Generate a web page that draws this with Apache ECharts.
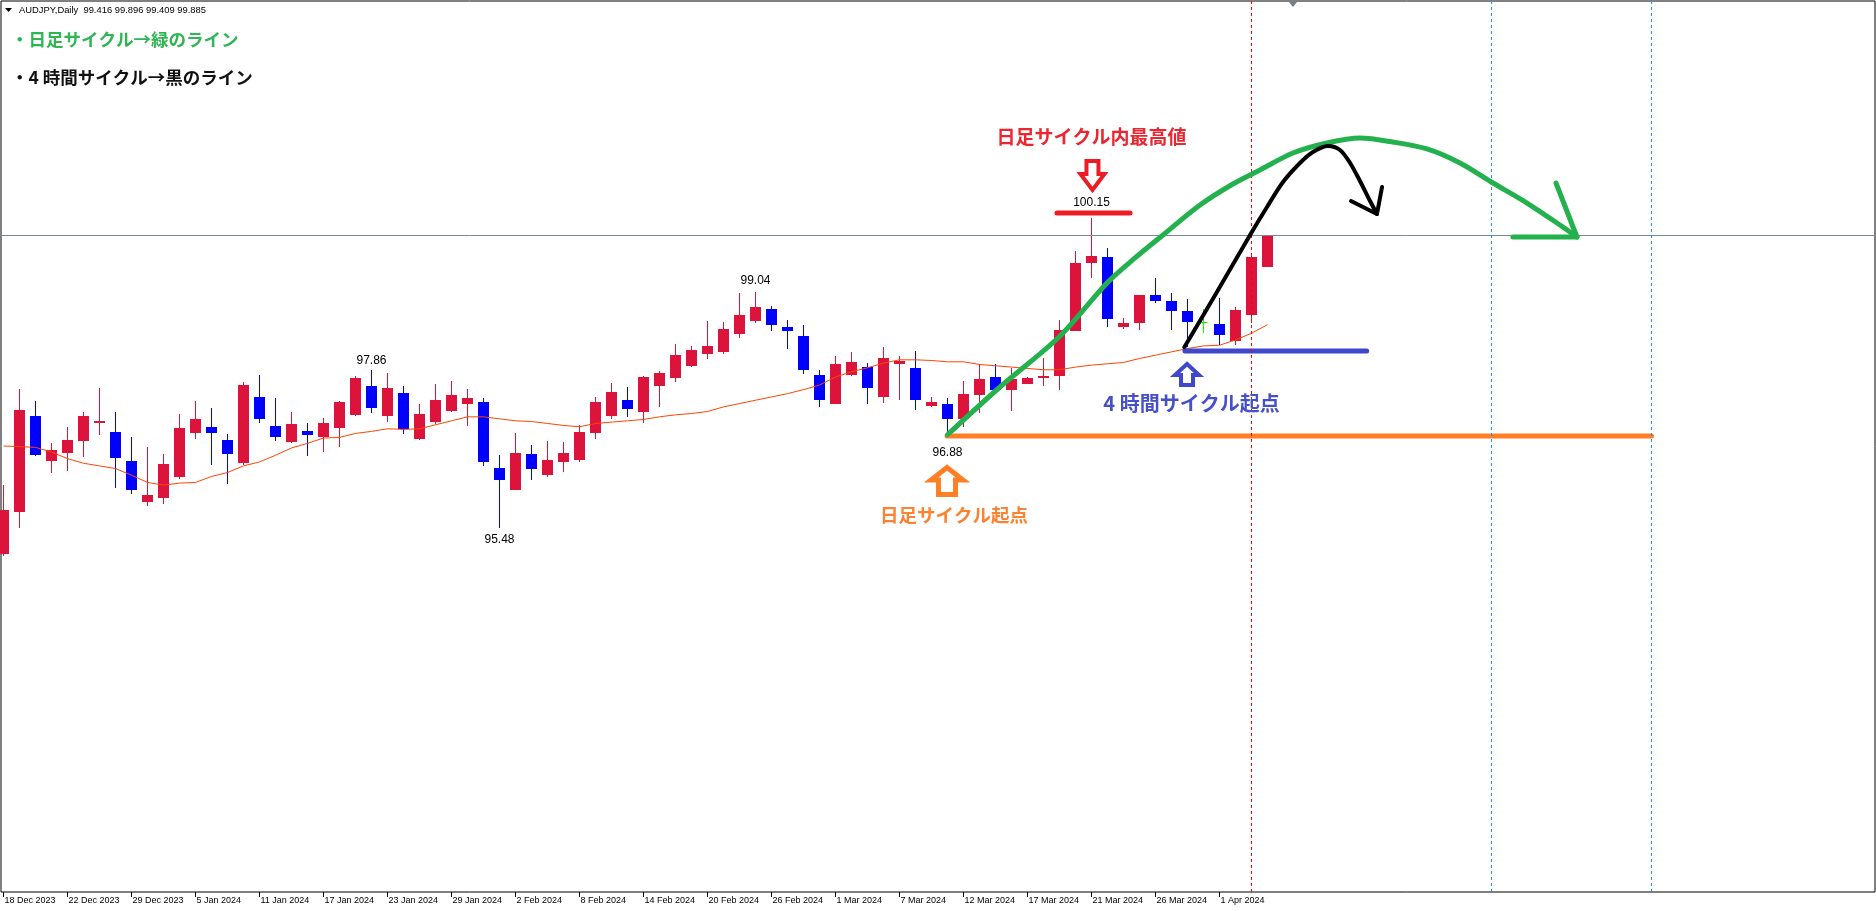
<!DOCTYPE html>
<html><head><meta charset="utf-8">
<script src="https://cdn.jsdelivr.net/npm/echarts@6/dist/echarts.min.js"></script>
<style>html,body{margin:0;padding:0;background:#fff}#c{width:1876px;height:911px}</style>
</head><body><div id="c"></div>
<script>
// ---------------- DATA ----------------
const dateLabels = [
'18 Dec 2023','19 Dec 2023','20 Dec 2023','21 Dec 2023','22 Dec 2023','26 Dec 2023','27 Dec 2023','28 Dec 2023','29 Dec 2023',
'2 Jan 2024','3 Jan 2024','4 Jan 2024','5 Jan 2024','8 Jan 2024','9 Jan 2024','10 Jan 2024','11 Jan 2024','12 Jan 2024','15 Jan 2024','16 Jan 2024','17 Jan 2024','18 Jan 2024','19 Jan 2024','22 Jan 2024','23 Jan 2024','24 Jan 2024','25 Jan 2024','26 Jan 2024','29 Jan 2024','30 Jan 2024','31 Jan 2024',
'1 Feb 2024','2 Feb 2024','5 Feb 2024','6 Feb 2024','7 Feb 2024','8 Feb 2024','9 Feb 2024','12 Feb 2024','13 Feb 2024','14 Feb 2024','15 Feb 2024','16 Feb 2024','19 Feb 2024','20 Feb 2024','21 Feb 2024','22 Feb 2024','23 Feb 2024','26 Feb 2024','27 Feb 2024','28 Feb 2024','29 Feb 2024',
'1 Mar 2024','4 Mar 2024','5 Mar 2024','6 Mar 2024','7 Mar 2024','8 Mar 2024','10 Mar 2024','11 Mar 2024','12 Mar 2024','13 Mar 2024','14 Mar 2024','15 Mar 2024','17 Mar 2024','18 Mar 2024','19 Mar 2024','20 Mar 2024','21 Mar 2024','22 Mar 2024','24 Mar 2024','25 Mar 2024','26 Mar 2024','27 Mar 2024','28 Mar 2024','29 Mar 2024',
'1 Apr 2024','2 Apr 2024','3 Apr 2024','4 Apr 2024'];
const opens  = [95.08,95.72,97.16,96.49,96.61,96.78,97.05,96.92,96.48,95.87,95.92,96.24,96.91,97.00,96.80,96.45,97.45,97.01,96.77,96.94,96.85,96.98,97.18,97.62,97.16,97.51,96.82,97.07,97.24,97.34,97.37,96.38,96.05,96.59,96.28,96.47,96.50,96.90,97.17,97.40,97.23,97.61,97.74,97.92,98.10,98.13,98.40,98.59,98.78,98.51,98.37,97.78,97.35,97.78,97.90,97.45,97.95,97.89,97.32,97.34,97.12,97.48,97.75,97.55,97.65,97.73,97.76,98.45,99.47,99.56,98.50,98.56,98.99,98.89,98.74,98.58,98.55,98.30,98.68,99.416];
const highs  = [96.12,97.57,97.39,96.76,97.00,97.22,97.59,97.22,96.85,96.70,96.59,97.19,97.39,97.28,96.89,97.68,97.78,97.43,97.22,97.06,97.13,97.39,97.76,97.86,97.81,97.62,97.34,97.65,97.69,97.57,97.43,96.57,96.91,96.73,96.79,96.77,97.02,97.45,97.66,97.60,97.77,97.84,98.25,98.22,98.60,98.58,99.02,99.04,98.82,98.61,98.54,97.86,98.06,98.13,97.96,98.20,98.07,98.14,97.45,97.43,97.69,97.95,97.94,97.89,97.75,98.04,98.61,99.65,100.15,99.70,98.64,98.99,99.24,99.02,98.93,98.78,98.94,98.81,99.57,99.896];
const lows   = [95.05,95.47,96.56,96.31,96.34,96.55,96.87,96.08,95.99,95.81,95.84,96.21,96.82,96.43,96.13,96.42,97.06,96.79,96.76,96.56,96.62,96.69,97.16,97.21,97.07,96.89,96.80,97.04,97.23,97.01,96.41,95.48,96.04,96.19,96.25,96.32,96.47,96.82,97.11,97.14,97.05,97.30,97.68,97.90,98.02,98.10,98.34,98.56,98.45,98.18,97.79,97.30,97.34,97.77,97.35,97.36,97.41,97.26,97.30,96.88,96.99,97.21,97.54,97.24,97.64,97.62,97.55,98.44,99.25,98.50,98.47,98.46,98.87,98.46,98.20,98.42,98.23,98.23,98.56,99.409];
const closes = [95.75,97.25,96.57,96.65,96.80,97.16,97.09,96.53,96.05,95.97,96.44,96.98,97.12,96.90,96.59,97.63,97.12,96.85,97.04,96.88,97.06,97.37,97.74,97.28,97.59,96.96,97.19,97.40,97.48,97.43,96.47,96.19,96.60,96.37,96.50,96.60,96.92,97.37,97.53,97.27,97.75,97.81,98.08,98.16,98.22,98.48,98.69,98.81,98.54,98.45,97.85,97.41,97.95,97.98,97.58,98.04,97.99,97.41,97.37,97.12,97.49,97.72,97.55,97.72,97.74,97.77,98.46,99.47,99.58,98.62,98.56,98.99,98.89,98.74,98.58,98.58,98.39,98.76,99.56,99.885];
const maValues = [96.71,96.70,96.69,96.62,96.52,96.45,96.41,96.37,96.27,96.16,96.12,96.15,96.16,96.25,96.31,96.41,96.47,96.57,96.68,96.75,96.83,96.84,96.90,96.93,96.97,96.96,96.97,97.03,97.09,97.15,97.15,97.12,97.09,97.08,97.05,97.02,97.00,97.05,97.07,97.09,97.11,97.15,97.18,97.20,97.23,97.30,97.35,97.40,97.45,97.50,97.56,97.63,97.75,97.83,97.89,97.96,98.01,98.01,98.00,97.98,97.98,97.94,97.92,97.90,97.88,97.86,97.86,97.90,97.93,97.95,97.97,98.03,98.08,98.13,98.18,98.22,98.23,98.31,98.41,98.54];
const bidPrice = 99.885;
const headerText = 'AUDJPY,Daily  99.416 99.896 99.409 99.885';
const verticalRed = [78];
const verticalBlue = [93, 103];
// labelled highs / lows  [bar, price]
const priceTags = [[23,97.86],[47,99.04],[68,100.15],[31,95.48],[59,96.88]];
// hand drawings in (bar, price) units
const greenCurve = [[59,96.88],[62.28,97.60],[65.97,98.354],[68.97,99.168],[70.72,99.546],[72.47,99.893],[74.78,100.345],[76.84,100.662],[78.53,100.873],[80.59,101.129],[82.72,101.28],[84.78,101.356],[86.84,101.295],[88.97,101.19],[91.03,100.978],[93.09,100.677],[95.22,100.375],[97.28,100.043],[98.34,99.862]];
const greenHead = [[94.34,99.862],[98.34,99.862],[97.03,100.677]];
const blackCurve = [[73.8,98.20],[75.84,99.033],[77.91,99.893],[78.97,100.315],[79.97,100.692],[81.03,100.979],[81.84,101.144],[82.78,101.235],[83.53,101.175],[84.16,100.979],[84.78,100.707],[85.41,100.405],[85.84,100.209]];
const blackHead = [[84.22,100.405],[85.84,100.209],[86.16,100.617]];
const orangeLevel = [[58.97,96.861],[103,96.861]];
const blueLevel = [[73.84,98.143],[85.2,98.143]];
const redLevel = [[65.84,100.224],[70.41,100.224]];
// block arrows: [bar, price of tip, direction (1 up, -1 down)]
const arrowTips = [[68.06,100.541,-1],[58.97,96.424,1],[73.97,97.977,1]];
// callout texts: anchor [bar, price]
const calloutAnchors = [[68,101.375],[59.4,95.67],[74.25,97.354]];
const calloutTexts = ['日足サイクル内最高値','日足サイクル起点','4 時間サイクル起点'];
const noteTexts = ['・日足サイクル→緑のライン','・4 時間サイクル→黒のライン'];

// ---------------- STYLE ----------------
const UP='#dc143c', DOWN='#0000ff', DOJI='#00ff00';
const tagOffsets = [-9.5,-11,-15,12.5,18];
const arrowStyles = [
  {color:'#ed1c24', w:28, h:33, shaft:16, head:18, lw:4},
  {color:'#ff7f27', w:37, h:32, shaft:22, head:15, lw:5},
  {color:'#3f48cc', w:28, h:25, shaft:16, head:13, lw:4}
];
const calloutStyles = [
  {color:'#ec2530', size:19},
  {color:'#fb8330', size:18.5},
  {color:'#4650c8', size:20}
];
const JP = '"Noto Sans CJK JP"';

const chart = echarts.init(document.getElementById('c'), null, {renderer:'canvas'});

const candleData = opens.map((o,i)=>[i,o,closes[i],lows[i],highs[i]]);
const maData = maValues.map((v,i)=>[i,v]);
const tickValues = dateLabels.map((d,i)=>i).filter(i=>i%4===0);

function renderCandle(params, api){
  const i=api.value(0), o=api.value(1), c=api.value(2), l=api.value(3), h=api.value(4);
  const pO=api.coord([i,o]), pC=api.coord([i,c]), pH=api.coord([i,h]), pL=api.coord([i,l]);
  const cx=Math.floor(pO[0])+0.5;
  const bw=Math.round(api.size([1,0])[0]*0.69);
  const color = c>o?UP:(c<o?DOWN:DOJI);
  const children=[{type:'line',shape:{x1:cx,y1:Math.round(pH[1]),x2:cx,y2:Math.round(pL[1])},style:{stroke:color,lineWidth:1}}];
  if(c===o){
    const y=Math.round(pO[1])+0.5;
    children.push({type:'line',shape:{x1:cx-4,y1:y,x2:cx+4,y2:y},style:{stroke:color,lineWidth:1}});
  } else {
    const top=Math.round(Math.min(pO[1],pC[1])), bot=Math.round(Math.max(pO[1],pC[1]));
    children.push({type:'rect',shape:{x:cx-bw/2,y:top,width:bw,height:Math.max(1,bot-top)},style:{fill:color}});
  }
  return {type:'group',children};
}

function renderArrow(params, api){
  const idx=params.dataIndex;
  const s=arrowStyles[idx];
  const p=api.coord([api.value(0),api.value(1)]);
  const dir=api.value(2);
  const k=s.lw/2;
  const W=s.w/2-k, S=s.shaft/2-k, H=s.h-2*k, Hh=s.head-k;
  const tx=p[0], ty=p[1]+dir*k;
  const rel=[[0,0],[W,Hh],[S,Hh],[S,H],[-S,H],[-S,Hh],[-W,Hh]];
  return {type:'polygon',shape:{points:rel.map(q=>[tx+q[0],ty+dir*q[1]])},
    style:{fill:'#fff',stroke:s.color,lineWidth:s.lw,lineJoin:'miter'}};
}

function renderTag(params, api){
  const idx=params.dataIndex;
  const v=api.value(1);
  const p=api.coord([api.value(0),v]);
  return {type:'text',x:p[0],y:p[1]+tagOffsets[idx],
    style:{text:v.toFixed(2),fill:'#000',font:'12px "Liberation Sans"',align:'center',verticalAlign:'middle',textAlign:'center',textVerticalAlign:'middle'}};
}

function renderCallout(params, api){
  const idx=params.dataIndex;
  const s=calloutStyles[idx];
  const p=api.coord([api.value(0),api.value(1)]);
  return {type:'text',x:p[0],y:p[1],
    style:{text:calloutTexts[idx],fill:s.color,font:'bold '+s.size+'px '+JP,align:'center',verticalAlign:'middle',textAlign:'center',textVerticalAlign:'middle'}};
}

function drawLine(name, data, color, width, z, smooth){
  return {type:'line',name,data,showSymbol:false,symbol:'none',silent:true,animation:false,z,smooth:smooth||false,
    lineStyle:{color,width,cap:'round',join:'round'}};
}

const option = {
  animation:false,
  backgroundColor:'#fff',
  grid:{left:1,top:1,right:1,bottom:19,show:true,borderColor:'#000',borderWidth:1,backgroundColor:'#fff'},
  xAxis:{type:'value',min:-0.15625,max:116.96875,
    axisLine:{show:false},splitLine:{show:false},
    axisTick:{show:true,customValues:tickValues,length:5,lineStyle:{color:'#000'}},
    axisLabel:{show:true,customValues:tickValues,align:'left',margin:4,padding:[0,0,0,1],
      fontSize:9,fontFamily:'Liberation Sans',color:'#000',
      formatter:v=>dateLabels[Math.round(v)]||''}},
  yAxis:{type:'value',min:89.983,max:103.422,show:false,splitLine:{show:false}},
  series:[
    {type:'line',name:'marks',data:[],silent:true,z:1,
      markLine:{silent:true,symbol:['none','none'],label:{show:false},animation:false,
        data:[
          {yAxis:bidPrice,lineStyle:{color:'#778899',width:1,type:'solid'}},
          ...verticalRed.map(v=>({xAxis:v,lineStyle:{color:'#ff0000',width:1,type:[3,3]}})),
          ...verticalBlue.map(v=>({xAxis:v,lineStyle:{color:'#1e90ff',width:1,type:[3,3]}}))
        ]}},
    {type:'custom',name:'candles',renderItem:renderCandle,data:candleData,encode:{x:0,y:[1,2,3,4]},z:2,silent:true,animation:false},
    {type:'line',name:'MA',data:maData,showSymbol:false,symbol:'none',silent:true,z:3,lineStyle:{color:'#ff4500',width:1}},
    drawLine('orange',orangeLevel,'#ff7f27',5,4),
    drawLine('blue',blueLevel,'#3f48cc',5,4),
    drawLine('red',redLevel,'#ed1c24',5,4),
    drawLine('green',greenCurve,'#22b14c',5,5,0.3),
    drawLine('greenHead',greenHead,'#22b14c',5,5),
    drawLine('black',blackCurve,'#000000',4,6,0.3),
    drawLine('blackHead',blackHead,'#000000',4,6),
    {type:'custom',name:'arrows',renderItem:renderArrow,data:arrowTips,encode:{x:0,y:1},z:7,silent:true,animation:false},
    {type:'custom',name:'tags',renderItem:renderTag,data:priceTags,encode:{x:0,y:1},z:7,silent:true,animation:false},
    {type:'custom',name:'callouts',renderItem:renderCallout,data:calloutAnchors,encode:{x:0,y:1},z:7,silent:true,animation:false}
  ],
  graphic:[
    {type:'polygon',shape:{points:[[5,8],[12,8],[8.5,12]]},style:{fill:'#000'},z:100},
    {type:'text',x:19,y:10,style:{text:headerText,fill:'#000',font:'9.4px "Liberation Sans"',align:'left',verticalAlign:'middle'},z:100},
    {type:'text',x:11,y:39,style:{text:noteTexts[0],fill:'#2fb553',font:'bold 17.5px '+JP,align:'left',verticalAlign:'middle'},z:100},
    {type:'text',x:11,y:77,style:{text:noteTexts[1],fill:'#111',font:'bold 17.5px '+JP,align:'left',verticalAlign:'middle'},z:100},
    {type:'polygon',shape:{points:[[1289,2],[1297,2],[1293,7]]},style:{fill:'#708090'},z:100}
  ]
};
chart.setOption(option);
</script>
</body></html>
